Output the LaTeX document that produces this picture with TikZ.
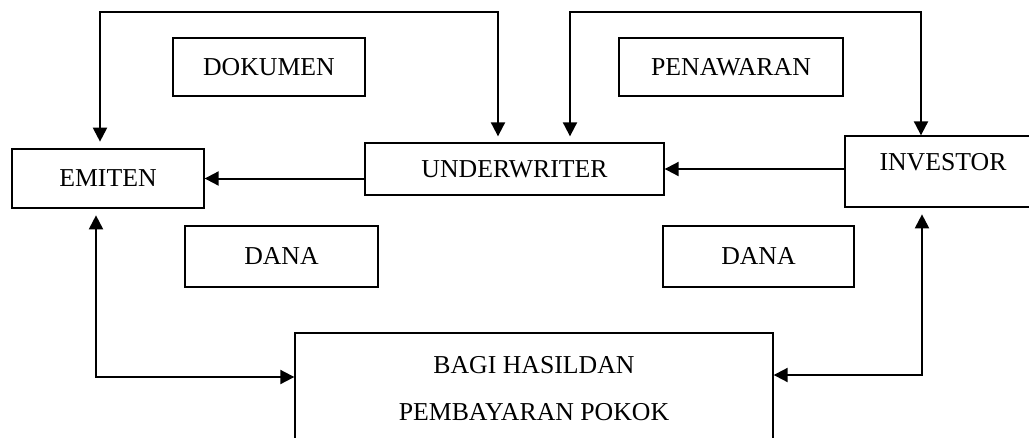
\documentclass[tikz,border=0pt]{standalone}
\usepackage{fontspec}
\setmainfont{Liberation Serif}
\usetikzlibrary{arrows.meta}

\begin{document}
\begin{tikzpicture}[x=0.03cm, y=-0.03cm,
  box/.style={draw, line width=0.04cm, inner sep=0pt, font=\fontsize{22}{26}\selectfont},
  flow/.style={line width=0.06cm},
  >={Triangle[length=0.42cm, width=0.42cm]}]
\useasboundingbox (0,0) rectangle (1029,437);
\clip (0,0) rectangle (1029,437);
% kotak utama
\node[box, minimum width=5.76cm, minimum height=1.77cm] (emiten) at (108,178.5) {EMITEN};%
\node[box, minimum width=8.97cm, minimum height=1.56cm] (underwriter) at (514.5,169) {UNDERWRITER};%
\node[box, minimum width=5.88cm, minimum height=2.13cm, text depth=0.55cm] (investor) at (943,171.5) {INVESTOR};%
\node[box, minimum width=14.34cm, minimum height=3.36cm, align=center,
      font=\fontsize{22}{40}\selectfont] (bagi) at (534,389) {BAGI HASILDAN\\PEMBAYARAN POKOK};%
% kotak keterangan
\node[box, minimum width=5.76cm, minimum height=1.74cm] (dokumen) at (269,67) {DOKUMEN};%
\node[box, minimum width=6.72cm, minimum height=1.74cm] (penawaran) at (731,67) {PENAWARAN};%
\node[box, minimum width=5.79cm, minimum height=1.83cm] (danaL) at (281.5,256.5) {DANA};%
\node[box, minimum width=5.73cm, minimum height=1.83cm] (danaR) at (758.5,256.5) {DANA};%
% titik sudut
\coordinate (dokkiri) at (100,12);
\coordinate (dokkanan) at (498,12);
\coordinate (penkiri) at (570,12);
\coordinate (penkanan) at (921,12);
\coordinate (bawahkiri) at (96,377);
\coordinate (bawahkanan) at (922,375);
% panah
\draw[flow, <->, shorten <=0.2cm, shorten >=0.18cm] (emiten.north -| dokkiri) -- (dokkiri)
      -- (dokkanan) -- (underwriter.north -| dokkanan);%
\draw[flow, <->, shorten <=0.18cm] (underwriter.north -| penkiri) -- (penkiri)
      -- (penkanan) -- (investor.north -| penkanan);%
\draw[flow, ->] (emiten.east -| underwriter.west) -- (emiten.east);%
\draw[flow, ->] (underwriter.east -| investor.west) -- (underwriter.east);%
\draw[flow, <->, shorten <=0.2cm] (emiten.south -| bawahkiri) -- (bawahkiri)
      -- (bawahkiri -| bagi.west);%
\draw[flow, <->, shorten <=0.2cm] (investor.south -| bawahkanan) -- (bawahkanan)
      -- (bawahkanan -| bagi.east);%
\end{tikzpicture}
\end{document}
